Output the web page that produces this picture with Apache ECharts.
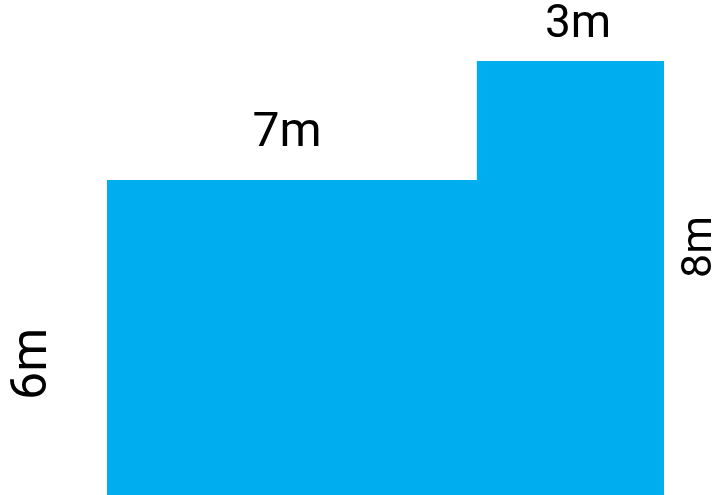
<!DOCTYPE html>
<html>
<head>
<meta charset="utf-8">
<script src="https://cdn.jsdelivr.net/npm/echarts@6/dist/echarts.min.js"></script>
<style>
  html, body { margin: 0; padding: 0; background: #fff; }
  #chart { width: 721px; height: 495px; }
</style>
</head>
<body>
<div id="chart"></div>
<script>
// 两个矩形拼成的 L 形（按图中实际画出的比例读取）：[起点x, 终点x, 高度]
const blockStart = [0, 6.64]
const blockEnd = [6.64, 10]
const blockHeight = [6, 8]
// 边长标注
const sideLabels = ['7m', '3m', '6m', '8m']

const myChart = echarts.init(document.getElementById('chart'))

const data = blockStart.map((s, i) => [s, blockEnd[i], blockHeight[i]])

const option = {
    animation: false,
    // 图形底部超出画布（下方被裁掉），所以 bottom 为负
    grid: { left: 107, right: 57, top: 61, bottom: -42, outerBoundsMode: 'none' },
    xAxis: { type: 'value', min: 0, max: 10, show: false },
    yAxis: { type: 'value', min: 0, max: 8, show: false },
    series: [{
        type: 'custom',
        data: data,
        renderItem: function (params, api) {
            // 整个轮廓画成一个多边形，避免两块之间出现缝
            if (params.dataIndex !== 0) return null
            const pts = [api.coord([data[0][0], 0])]
            data.forEach(d => {
                pts.push(api.coord([d[0], d[2]]))
                pts.push(api.coord([d[1], d[2]]))
            })
            pts.push(api.coord([data[data.length - 1][1], 0]))
            return {
                type: 'polygon',
                shape: { points: pts },
                style: { fill: '#00AEEF' }
            }
        }
    }],
    graphic: [
        { type: 'text', x: 287, y: 134, style: { text: sideLabels[0], fontSize: 48, fontFamily: 'Roboto', fill: '#000', align: 'center', verticalAlign: 'middle' } },
        { type: 'text', x: 578, y: 25, style: { text: sideLabels[1], fontSize: 46, fontFamily: 'Roboto', fill: '#000', align: 'center', verticalAlign: 'middle' } },
        { type: 'text', x: 33, y: 364, rotation: Math.PI / 2, style: { text: sideLabels[2], fontSize: 50, fontFamily: 'Roboto', fill: '#000', align: 'center', verticalAlign: 'middle' } },
        { type: 'text', x: 700, y: 247, rotation: Math.PI / 2, style: { text: sideLabels[3], fontSize: 43, fontFamily: 'Roboto', fill: '#000', align: 'center', verticalAlign: 'middle' } }
    ]
}
myChart.setOption(option)
</script>
</body>
</html>
